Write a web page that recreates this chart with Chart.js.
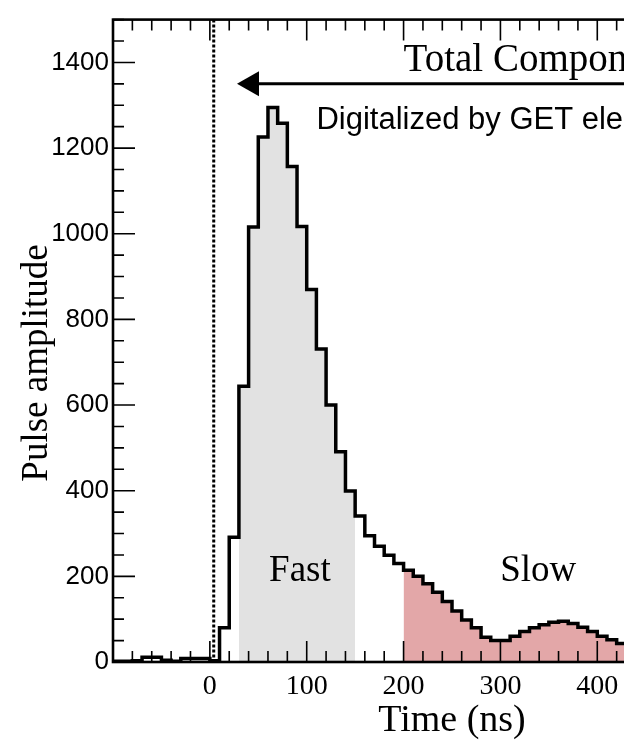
<!DOCTYPE html>
<html>
<head>
<meta charset="utf-8">
<script src="https://cdn.jsdelivr.net/npm/chart.js@4.4.0/dist/chart.umd.min.js"></script>
<style>
  html, body { margin: 0; padding: 0; background: #fff; overflow: hidden; }
  #wrap { position: absolute; left: 0; top: 0; width: 800px; height: 745px; }
</style>
</head>
<body>
<div id="wrap"><canvas id="pulsechart" width="800" height="745"></canvas></div>
<script>
// left edge of every 10 ns sample (ns)
const binLeft = [
  -100, -90, -80, -70, -60, -50, -40, -30, -20, -10,
  0, 10, 20, 30, 40, 50, 60, 70, 80, 90,
  100, 110, 120, 130, 140, 150, 160, 170, 180, 190,
  200, 210, 220, 230, 240, 250, 260, 270, 280, 290,
  300, 310, 320, 330, 340, 350, 360, 370, 380, 390,
  400, 410, 420, 430, 440, 450, 460, 470, 480, 490,
  500, 510, 520, 530, 540, 550, 560, 570, 580, 590
];
const amplitude = [
  2, 2, 3, 11, 11, 4, 2, 8, 8, 8,
  3, 80, 291, 644, 1016, 1226, 1295, 1258, 1157, 1017,
  870, 731, 600, 491, 399, 341, 295, 270, 249, 230,
  214, 200, 183, 163, 141, 119, 98, 80, 58, 50,
  50, 60, 71, 80, 87, 93, 95, 90, 81, 71,
  60, 52, 43, 37, 32, 28, 24, 21, 19, 17,
  15, 14, 13, 12, 11, 10, 9, 9, 8, 8
];
const binWidth = 10;

const xTicks = [0, 100, 200, 300, 400, 500];
const yTicks = [0, 200, 400, 600, 800, 1000, 1200, 1400];

const fastWindow = [30, 150];
const slowWindow = [200, 600];
const triggerTime = 4;

// step outline points for the bins whose left edge lies in [from, to)
function stepPoints(from, to) {
  let pts = [];
  for (let i = 0; i < binLeft.length; i++) {
    if (binLeft[i] >= from && binLeft[i] < to) {
      pts.push({ x: binLeft[i], y: amplitude[i] });
    }
  }
  let last = pts[pts.length - 1];
  pts.push({ x: last.x + binWidth, y: last.y });
  return pts;
}

const serif = '"Liberation Serif", "Times New Roman", serif';
const sans = '"Liberation Sans", Arial, sans-serif';

const frameAndTicks = {
  id: 'frameAndTicks',
  afterDatasetsDraw(chart) {
    const { ctx, chartArea: a, scales: { x, y } } = chart;
    ctx.save();
    ctx.strokeStyle = '#000';
    ctx.lineWidth = 1.6;
    ctx.beginPath();
    for (let v = x.min; v <= x.max; v += 20) {
      const px = x.getPixelForValue(v);
      const len = v % 100 === 0 ? 21 : 11;
      ctx.moveTo(px, a.bottom); ctx.lineTo(px, a.bottom - len);
      ctx.moveTo(px, a.top); ctx.lineTo(px, a.top + len);
    }
    for (let v = y.min; v <= y.max; v += 50) {
      const py = y.getPixelForValue(v);
      const len = v % 200 === 0 ? 22 : 11;
      ctx.moveTo(a.left, py); ctx.lineTo(a.left + len, py);
      ctx.moveTo(a.right, py); ctx.lineTo(a.right - len, py);
    }
    ctx.stroke();
    ctx.lineWidth = 2.6;
    ctx.strokeRect(a.left, a.top, a.right - a.left, a.bottom - a.top);

    // y axis title, placed toward the upper part of the axis
    ctx.fillStyle = '#000';
    ctx.font = '37px ' + serif;
    ctx.textAlign = 'center';
    ctx.textBaseline = 'alphabetic';
    ctx.translate(47, 363);
    ctx.rotate(-Math.PI / 2);
    ctx.fillText('Pulse amplitude', 0, 0);
    ctx.restore();
  }
};

const annotations = {
  id: 'annotations',
  afterDatasetsDraw(chart) {
    const { ctx, chartArea: a, scales: { x, y } } = chart;
    ctx.save();

    // trigger marker
    ctx.strokeStyle = '#000';
    ctx.lineWidth = 3;
    ctx.setLineDash([3, 2]);
    ctx.beginPath();
    ctx.moveTo(x.getPixelForValue(triggerTime), a.top);
    ctx.lineTo(x.getPixelForValue(triggerTime), a.bottom);
    ctx.stroke();
    ctx.setLineDash([]);

    // integration arrow for the total component
    const ay = y.getPixelForValue(1350);
    const tip = x.getPixelForValue(28);
    ctx.lineWidth = 3;
    ctx.beginPath();
    ctx.moveTo(tip + 15, ay);
    ctx.lineTo(a.right, ay);
    ctx.stroke();
    ctx.fillStyle = '#000';
    ctx.beginPath();
    ctx.moveTo(tip, ay);
    ctx.lineTo(tip + 22, ay - 12.5);
    ctx.lineTo(tip + 22, ay + 12.5);
    ctx.closePath();
    ctx.fill();

    ctx.textBaseline = 'alphabetic';
    ctx.textAlign = 'left';
    ctx.font = '39px ' + serif;
    ctx.fillText('Total Component', x.getPixelForValue(200), y.getPixelForValue(1379));
    ctx.font = '31px ' + sans;
    ctx.fillText('Digitalized by GET electronics', x.getPixelForValue(110), y.getPixelForValue(1244));

    ctx.textAlign = 'center';
    ctx.font = '37px ' + serif;
    ctx.fillText('Fast', x.getPixelForValue(93), y.getPixelForValue(188));
    ctx.fillText('Slow', x.getPixelForValue(339), y.getPixelForValue(188));
    ctx.restore();
  }
};

new Chart(document.getElementById('pulsechart'), {
  type: 'line',
  data: {
    datasets: [
      {
        label: 'Pulse',
        data: stepPoints(-100, 600),
        stepped: 'before',
        borderColor: '#000',
        borderWidth: 3.5,
        borderJoinStyle: 'miter',
        pointRadius: 0,
        fill: false,
        order: 0
      },
      {
        label: 'Fast',
        data: stepPoints(fastWindow[0], fastWindow[1]),
        stepped: 'before',
        borderColor: 'rgba(0,0,0,0)',
        borderWidth: 0,
        backgroundColor: '#e2e2e2',
        pointRadius: 0,
        fill: 'origin',
        order: 1
      },
      {
        label: 'Slow',
        data: stepPoints(slowWindow[0], slowWindow[1]),
        stepped: 'before',
        borderColor: 'rgba(0,0,0,0)',
        borderWidth: 0,
        backgroundColor: '#e3a7a8',
        pointRadius: 0,
        fill: 'origin',
        order: 1
      }
    ]
  },
  options: {
    responsive: false,
    animation: false,
    events: [],
    layout: { padding: { top: 9, right: 9, bottom: 0, left: 0 } },
    plugins: {
      legend: { display: false },
      tooltip: { enabled: false }
    },
    scales: {
      x: {
        type: 'linear',
        min: -100,
        max: 600,
        afterBuildTicks: (scale) => { scale.ticks = xTicks.map(v => ({ value: v })); },
        afterFit: (scale) => { scale.height = 83; },
        grid: { display: false, drawTicks: false },
        border: { display: false },
        ticks: {
          padding: 8,
          maxRotation: 0,
          autoSkip: false,
          color: '#000',
          font: { family: serif, size: 28 },
          callback: (v) => String(v)
        },
        title: {
          display: true,
          text: 'Time (ns)',
          color: '#000',
          font: { family: serif, size: 38 },
          padding: { top: 0, bottom: 1 }
        }
      },
      y: {
        min: 0,
        max: 1500,
        afterBuildTicks: (scale) => { scale.ticks = yTicks.map(v => ({ value: v })); },
        afterFit: (scale) => { scale.width = 113; },
        grid: { display: false, drawTicks: false },
        border: { display: false },
        ticks: {
          padding: 4,
          color: '#000',
          font: { family: sans, size: 26 },
          callback: (v) => String(v)
        }
      }
    }
  },
  plugins: [annotations, frameAndTicks]
});
</script>
</body>
</html>
